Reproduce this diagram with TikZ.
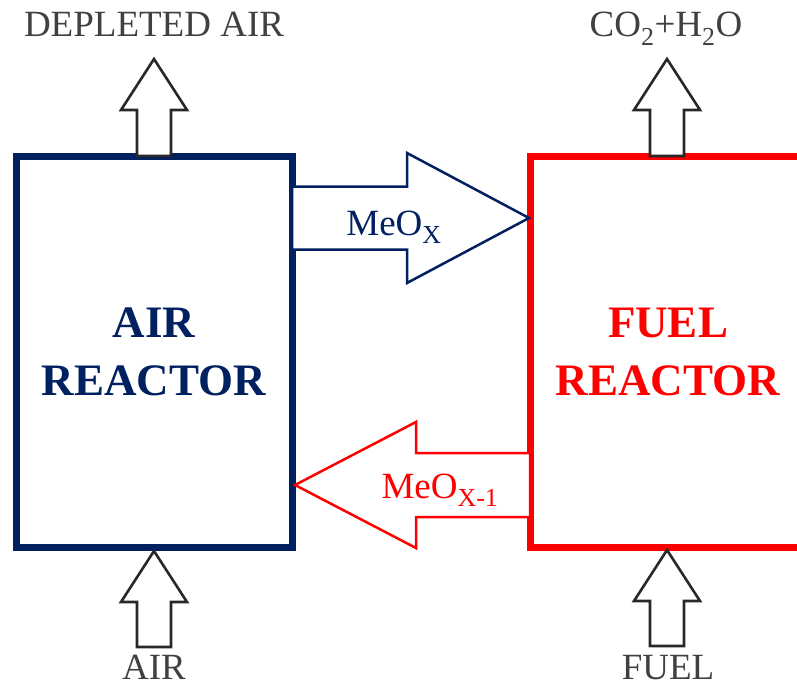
\documentclass[tikz,border=0pt]{standalone}
\usepackage{fontspec}
\setmainfont{Liberation Serif}
\usetikzlibrary{calc}
\definecolor{navy}{RGB}{0,32,96}
\definecolor{fuelred}{RGB}{255,0,0}
\definecolor{txtgray}{RGB}{64,64,64}
\definecolor{arrgray}{RGB}{40,40,40}
\begin{document}
\begin{tikzpicture}[x=1pt,y=-1pt,
  reactor/.style={draw, line width=7pt, minimum width=276pt, minimum height=391pt,
    outer sep=0pt, inner sep=0pt, align=center,
    font=\bfseries\fontsize{45}{58}\selectfont},
  flowlabel/.style={text=txtgray, font=\fontsize{37}{44}\selectfont, inner sep=0pt, anchor=base},
  feedarrow/.style={draw=arrgray, line width=2.6pt, fill=white, line join=miter},
  oxarrow/.style={draw=navy, line width=2.5pt, fill=white, line join=miter},
  redarrow/.style={draw=fuelred, line width=2.5pt, fill=white, line join=miter},
  outarrow/.pic={\draw[feedarrow] (-17,0) -- (-17,-46) -- (-33,-46) -- (0,-97) -- (33,-46) -- (17,-46) -- (17,0) -- cycle;},
  inarrow/.pic={\draw[feedarrow] (0,0) -- (33,51) -- (17,51) -- (17,96) -- (-17,96) -- (-17,51) -- (-33,51) -- cycle;}
]
\path[use as bounding box] (0,0) rectangle (797,690);
\clip (0,0) rectangle (797,690);

% reactors
\node[reactor, draw=navy, text=navy] (air) at (154,351.5) {AIR\\REACTOR};
\node[reactor, draw=fuelred, text=fuelred] (fuel) at (668,351.5) {FUEL\\REACTOR};

% labels
\node[flowlabel] (depleted) at (154,37) {DEPLETED AIR};
\node[flowlabel] (flue) at (666,37) {CO\textsubscript{2}+H\textsubscript{2}O};
\node[flowlabel] (airin) at (154,679) {AIR};
\node[flowlabel] (fuelin) at (668,679) {FUEL};

% feed / exhaust arrows
\pic at (air.north) {outarrow};
\pic at ($(fuel.north)+(-1,0)$) {outarrow};
\pic at ($(air.south)+(0,4)$) {inarrow};
\pic at ($(fuel.south)+(-1,3)$) {inarrow};

% oxidised carrier: air -> fuel
\coordinate (oxTail) at ($(air.east)+(0,-133.5)$);
\coordinate (oxTip) at ($(fuel.west)+(-1,-133.5)$);
\draw[oxarrow] ($(oxTail)+(0,-31.5)$) -- ($(oxTip)+(-122,-31.5)$) -- ($(oxTip)+(-122,-65)$)
  -- (oxTip) -- ($(oxTip)+(-122,65)$) -- ($(oxTip)+(-122,31.5)$) -- ($(oxTail)+(0,31.5)$) -- cycle;

% reduced carrier: fuel -> air
\coordinate (redTail) at ($(fuel.west)+(0,133.5)$);
\coordinate (redTip) at ($(air.east)+(3,133.5)$);
\draw[redarrow] ($(redTail)+(0,-32)$) -- ($(redTip)+(121,-32)$) -- ($(redTip)+(121,-63)$)
  -- (redTip) -- ($(redTip)+(121,63)$) -- ($(redTip)+(121,32)$) -- ($(redTail)+(0,32)$) -- cycle;

\node[flowlabel, text=navy] (ox) at (394,235) {MeO\textsubscript{X}};
\node[flowlabel, text=fuelred] (red) at (440,498) {MeO\textsubscript{X-1}};
\end{tikzpicture}
\end{document}
